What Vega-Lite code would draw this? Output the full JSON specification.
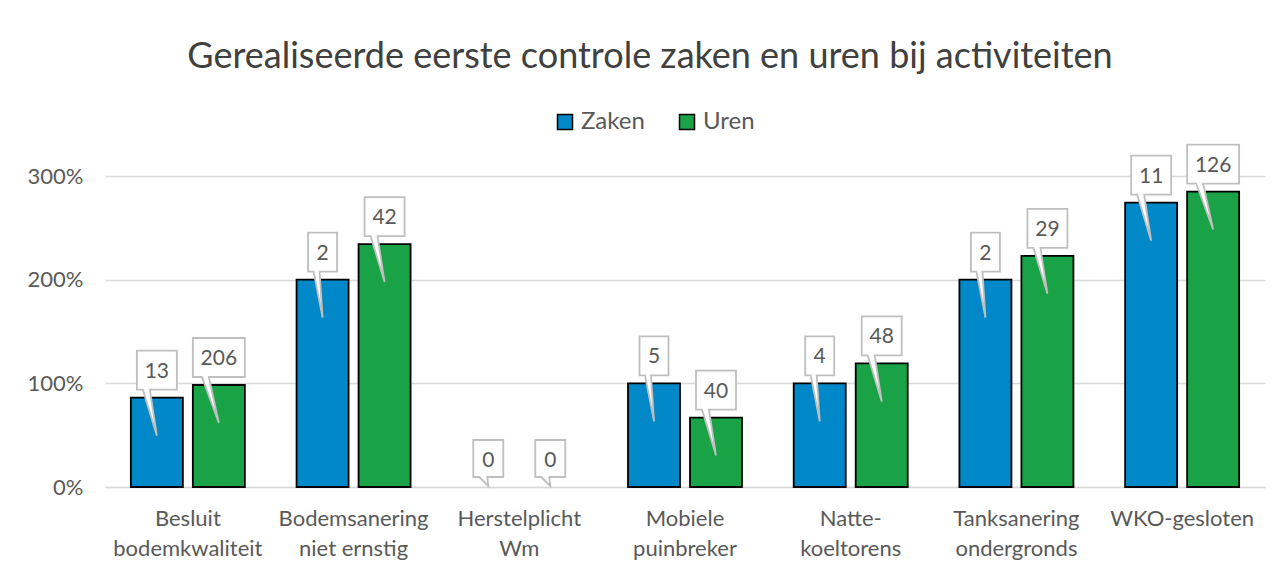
{
  "$schema": "https://vega.github.io/schema/vega-lite/v6.json",
  "autosize": {"type": "none"},
  "width": 1160,
  "height": 311,
  "padding": {"left": 105, "top": 176, "right": 19, "bottom": 87},
  "background": "white",
  "config": {
    "view": {"stroke": null},
    "font": "Lato",
    "axis": {"labelFont": "Lato", "labelColor": "#595959", "titleFont": "Lato"},
    "legend": {"labelFont": "Lato"}
  },
  "title": {
    "text": "Gerealiseerde eerste controle zaken en uren bij activiteiten",
    "anchor": "middle",
    "frame": "group",
    "dx": -35,
    "offset": 34,
    "fontSize": 36,
    "fontWeight": "normal",
    "font": "Lato",
    "color": "#404040"
  },
  "data": {
    "values": [
      {"cat": "Besluit\nbodemkwaliteit", "serie": "Zaken", "pct": 0.862, "n": 13},
      {"cat": "Besluit\nbodemkwaliteit", "serie": "Uren", "pct": 0.984, "n": 206},
      {"cat": "Bodemsanering\nniet ernstig", "serie": "Zaken", "pct": 2.0, "n": 2},
      {"cat": "Bodemsanering\nniet ernstig", "serie": "Uren", "pct": 2.343, "n": 42},
      {"cat": "Herstelplicht\nWm", "serie": "Zaken", "pct": 0, "n": 0},
      {"cat": "Herstelplicht\nWm", "serie": "Uren", "pct": 0, "n": 0},
      {"cat": "Mobiele\npuinbreker", "serie": "Zaken", "pct": 1.0, "n": 5},
      {"cat": "Mobiele\npuinbreker", "serie": "Uren", "pct": 0.67, "n": 40},
      {"cat": "Natte-\nkoeltorens", "serie": "Zaken", "pct": 1.0, "n": 4},
      {"cat": "Natte-\nkoeltorens", "serie": "Uren", "pct": 1.192, "n": 48},
      {"cat": "Tanksanering\nondergronds", "serie": "Zaken", "pct": 2.0, "n": 2},
      {"cat": "Tanksanering\nondergronds", "serie": "Uren", "pct": 2.23, "n": 29},
      {"cat": "WKO-gesloten", "serie": "Zaken", "pct": 2.743, "n": 11},
      {"cat": "WKO-gesloten", "serie": "Uren", "pct": 2.85, "n": 126}
    ]
  },
  "encoding": {
    "x": {
      "field": "cat",
      "type": "nominal",
      "sort": null,
      "scale": {
        "domain": ["Besluit\nbodemkwaliteit", "Bodemsanering\nniet ernstig", "Herstelplicht\nWm", "Mobiele\npuinbreker", "Natte-\nkoeltorens", "Tanksanering\nondergronds", "WKO-gesloten"],
        "paddingInner": 0.312,
        "paddingOuter": 0.156
      },
      "axis": {
        "title": null,
        "labelAngle": 0,
        "labelExpr": "split(datum.label, '\\n')",
        "labelFontSize": 22,
        "labelLineHeight": 30,
        "labelPadding": 21,
        "labelBaseline": "top",
        "ticks": false,
        "domainColor": "#d9d9d9",
        "domainWidth": 1.5
      }
    },
    "xOffset": {
      "field": "serie",
      "type": "nominal",
      "sort": ["Zaken", "Uren"],
      "scale": {"domain": ["Zaken", "Uren"], "paddingInner": 0.161, "paddingOuter": 0}
    },
    "y": {
      "field": "pct",
      "type": "quantitative",
      "stack": null,
      "scale": {"domain": [0, 3], "nice": false},
      "axis": {
        "title": null,
        "values": [0, 1, 2, 3],
        "format": ".0%",
        "labelFontSize": 22,
        "labelPadding": 22,
        "ticks": false,
        "domain": false,
        "gridColor": "#d9d9d9",
        "gridWidth": 1.5
      }
    }
  },
  "layer": [
    {
      "transform": [{"filter": "datum.pct > 0"}],
      "mark": {"type": "bar", "stroke": "black", "strokeWidth": 1.8},
      "encoding": {
        "color": {
          "field": "serie",
          "type": "nominal",
          "sort": ["Zaken", "Uren"],
          "scale": {"domain": ["Zaken", "Uren"], "range": ["#0088c9", "#1aa346"]},
          "legend": {
            "title": null,
            "orient": "none",
            "legendX": 448,
            "legendY": -66,
            "direction": "horizontal",
            "symbolType": "square",
            "symbolSize": 225,
            "symbolStrokeColor": "black",
            "symbolStrokeWidth": 1.5,
            "symbolOpacity": 1,
            "labelFontSize": 24,
            "labelColor": "#595959",
            "labelOffset": 4,
            "columnPadding": 30,
            "padding": 0
          }
        }
      }
    },
    {
      "transform": [{"filter": "datum.n > 0 && datum.n < 10"}],
      "mark": {
        "type": "point",
        "filled": true,
        "fill": "white",
        "stroke": "#bfbfbf",
        "strokeWidth": 1.8,
        "opacity": 1,
        "size": 10000,
        "shape": "M -0.29 -0.94 L 0.29 -0.94 L 0.29 -0.16 L -0.06 -0.16 L 0 0.76 L -0.18 -0.16 L -0.29 -0.16 Z"
      }
    },
    {
      "transform": [{"filter": "datum.n >= 10 && datum.n < 100"}],
      "mark": {
        "type": "point",
        "filled": true,
        "fill": "white",
        "stroke": "#bfbfbf",
        "strokeWidth": 1.8,
        "opacity": 1,
        "size": 10000,
        "shape": "M -0.40 -0.94 L 0.40 -0.94 L 0.40 -0.16 L -0.14 -0.16 L 0 0.76 L -0.28 -0.16 L -0.40 -0.16 Z"
      }
    },
    {
      "transform": [{"filter": "datum.n >= 100"}],
      "mark": {
        "type": "point",
        "filled": true,
        "fill": "white",
        "stroke": "#bfbfbf",
        "strokeWidth": 1.8,
        "opacity": 1,
        "size": 10000,
        "shape": "M -0.52 -0.94 L 0.52 -0.94 L 0.52 -0.16 L -0.2 -0.16 L 0 0.76 L -0.34 -0.16 L -0.52 -0.16 Z"
      }
    },
    {
      "transform": [{"filter": "datum.n == 0"}],
      "mark": {
        "type": "point",
        "filled": true,
        "fill": "white",
        "stroke": "#bfbfbf",
        "strokeWidth": 1.8,
        "opacity": 1,
        "size": 10000,
        "shape": "M -0.30 -0.94 L 0.30 -0.94 L 0.30 -0.2 L -0.02 -0.2 L 0 -0.02 L -0.18 -0.2 L -0.30 -0.2 Z"
      }
    },
    {
      "mark": {
        "type": "text",
        "dy": -26,
        "fontSize": 21,
        "font": "Lato",
        "color": "#595959",
        "baseline": "middle"
      },
      "encoding": {"text": {"field": "n", "type": "quantitative"}}
    }
  ]
}
